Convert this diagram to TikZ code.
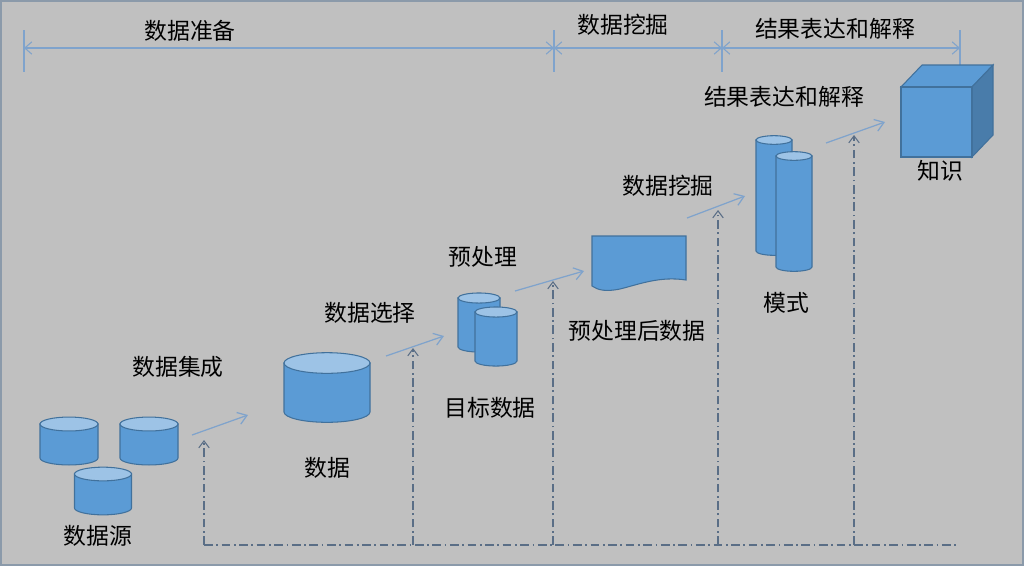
\documentclass[tikz,border=0pt]{standalone}
\usepackage{fontspec}
\newfontfamily\cjk{Noto Sans CJK SC}
\usetikzlibrary{arrows.meta}
\definecolor{bg}{HTML}{C0C0C0}
\definecolor{fillb}{HTML}{5B9BD5}
\definecolor{topb}{HTML}{9DC3E6}
\definecolor{edgeb}{HTML}{41719C}
\definecolor{arr}{HTML}{7FA3CC}
\definecolor{dd}{HTML}{5A6E86}
\tikzset{
 lbl/.style={font=\cjk\fontsize{13}{15}\selectfont, inner sep=1pt},
 flow/.style={arr, line width=0.7pt, -{Straight Barb[length=5pt,width=7pt]}},
 span/.style={arr, line width=0.6pt, {Straight Barb[length=4pt,width=7pt]}-{Straight Barb[length=4pt,width=7pt]}},
 tick/.style={arr, line width=0.6pt},
 feed/.style={dd, line width=0.6pt, dash pattern=on 5pt off 2pt on 1pt off 2pt},
 feeda/.style={feed, -{Straight Barb[length=4pt,width=6pt]}},
 shp/.style={fill=fillb, draw=edgeb, line width=0.6pt},
}
\newcommand{\mycyl}[5]{% name, cx, top, width, height
 \path[shp] (#2-#4/2,#3) -- (#2-#4/2,#3+#5) arc[start angle=180,end angle=0,x radius=#4/2,y radius=#4*0.12] -- (#2+#4/2,#3) -- cycle;
 \path[fill=topb, draw=edgeb, line width=0.6pt] (#2,#3) ellipse[x radius=#4/2, y radius=#4*0.12];
 \coordinate (#1) at (#2,#3);
}
\begin{document}
\begin{tikzpicture}[x=0.02cm,y=-0.02cm]
\fill[bg] (0,0) rectangle (1024,566);
\draw[dd!70, line width=0.8pt] (1,1) rectangle (1023,565);
% top spans
\foreach \x/\n in {24/ta,554/tb,722/tc,960/td}{\coordinate (\n) at (\x,48); \draw[tick] (\x,30) -- (\x,72);}
\draw[span] (ta) -- (tb);
\draw[span] (tb) -- (tc);
\draw[span] (tc) -- (td);
\node[lbl] (l1) at (190,31) {数据准备};
\node[lbl] (l2) at (623,25) {数据挖掘};
\node[lbl] (l3) at (835,29) {结果表达和解释};
% sources
\mycyl{c1}{69}{424}{58}{34}
\mycyl{c2}{149}{424}{58}{34}
\mycyl{c3}{103}{474}{57}{34}
\node[lbl] (src) at (98,536) {数据源};
% data
\mycyl{c4}{327}{363}{86}{49}
\node[lbl] (dat) at (327,468) {数据};
% target
\mycyl{c5}{479}{298}{42}{49}
\mycyl{c6}{496}{312}{42}{49}
\node[lbl] (tgt) at (490,408) {目标数据};
% doc
\path[shp] (592,236) -- (686,236) -- (686,280) .. controls (660,276) and (640,284) .. (620,289) .. controls (605,292) and (598,290) .. (592,286) -- cycle;
\node[lbl] (pre) at (637,331) {预处理后数据};
% model
\mycyl{c7}{774}{140}{36}{111}
\mycyl{c8}{794}{156}{36}{111}
\node[lbl] (mod) at (786,303) {模式};
% cube
\path[shp] (901,87) -- (922,65) -- (993,65) -- (972,87) -- cycle;
\path[shp, fill=fillb!80!black] (972,87) -- (993,65) -- (993,135) -- (972,157) -- cycle;
\path[shp] (901,87) rectangle (972,157);
\node[lbl] (kn) at (940,171) {知识};
% flow arrows + labels
\coordinate (a1s) at (192,435); \coordinate (a1e) at (248,415);
\coordinate (a2s) at (386,356); \coordinate (a2e) at (444,336);
\coordinate (a3s) at (515,291); \coordinate (a3e) at (584,271);
\coordinate (a4s) at (687,218); \coordinate (a4e) at (745,196);
\coordinate (a5s) at (826,143); \coordinate (a5e) at (885,122);
\foreach \s/\e in {a1s/a1e,a2s/a2e,a3s/a3e,a4s/a4e,a5s/a5e}{\draw[flow] (\s) -- (\e);}
\node[lbl] (f1) at (178,367) {数据集成};
\node[lbl] (f2) at (370,313) {数据选择};
\node[lbl] (f3) at (483,257) {预处理};
\node[lbl] (f4) at (668,186) {数据挖掘};
\node[lbl] (f5) at (784,97) {结果表达和解释};
% feedback
\coordinate (b0) at (204,545); \coordinate (bE) at (958,545);
\draw[feed] (b0) -- (bE);
\foreach \x/\y in {204/440,413/348,553/281,718/210,854/135}{\draw[feeda] (\x,545) -- (\x,\y);}
\end{tikzpicture}
\end{document}
